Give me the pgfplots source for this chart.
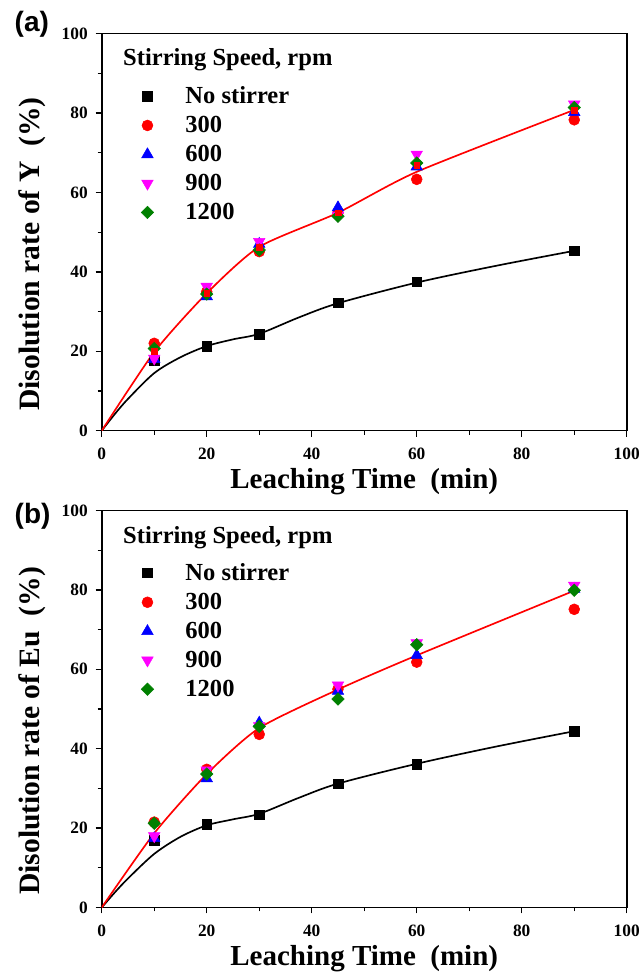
\documentclass[border=0pt]{standalone}
\usepackage{fontspec}
\setmainfont{Liberation Serif}
\newfontfamily\labfont{Liberation Sans}
\usepackage{pgfplots}
\pgfplotsset{compat=1.18}

\definecolor{myred}{RGB}{255,0,0}
\definecolor{myblue}{RGB}{0,0,255}
\definecolor{mymag}{RGB}{255,0,255}
\definecolor{mygreen}{RGB}{0,128,0}

\pgfplotsset{
  myleg/.style={legend image code/.code={\draw[##1] plot coordinates {(8.5pt,0pt)}; \path[draw=none,fill=none] (0pt,0pt) rectangle (35pt,0.1pt);}},
  panel/.style={
    scale only axis, width=393.75pt, height=297.75pt,
    xmin=0, xmax=100, ymin=0, ymax=100,
    xtick={0,20,...,100}, ytick={0,20,...,100},
    minor tick num=1,
    tick pos=left, tick align=outside,
    major tick length=4.5pt, minor tick length=3pt,
    axis line style={line width=1.2pt},
    every tick/.style={black, line width=1pt},
    tick label style={font=\fontsize{13}{15}\selectfont\bfseries},
    /pgf/number format/assume math mode=true,
    xticklabel style={yshift=-5pt},
    yticklabel style={xshift=-2.5pt},
    every axis x label/.style={at={(axis description cs:0.5,-0.145)}, anchor=base, font=\fontsize{21.75}{26}\selectfont\bfseries},
    every axis y label/.style={at={(axis description cs:-0.133,0.445)}, rotate=90, anchor=center, font=\fontsize{22.2}{26}\selectfont\bfseries},
    xlabel={Leaching Time\ \ (min)},
    legend style={at={(axis cs:6.5,87.4)}, anchor=north west, draw=none, fill=none,
      inner xsep=0pt, inner ysep=0pt, font=\fontsize{18.4}{22}\selectfont\bfseries,
      row sep=4pt, cells={anchor=west}},
  },
  blk/.style={only marks, mark=square*, mark size=3.6pt, color=black, myleg},
  rcir/.style={only marks, mark=*, mark size=4.1pt, color=myred, myleg},
  btri/.style={only marks, mark=triangle*, mark size=5pt, color=myblue, myleg},
  mtri/.style={only marks, mark=triangle*, mark size=5pt, mark options={rotate=180}, color=mymag, myleg},
  gdia/.style={only marks, mark=square*, mark size=3.3pt, mark options={rotate=45}, color=mygreen, myleg},
}

\begin{document}
\begin{tikzpicture}
% ---------------- Panel (a) ----------------
\begin{axis}[panel, at={(76.3pt,-323pt)}, anchor=south west,
  ylabel={Disolution rate of Y\ \ (\%)}]
\addplot[forget plot, black, line width=1.25pt, smooth, tension=0.5] coordinates {
 (0,0) (2.5,4.2) (5,8) (10,14.5) (15,18.5) (20,21.3) (25,23) (30,24.4) (37.5,28.5) (45,32.1) (60,37.3) (75,41.5) (90,45.3)};
\addplot[forget plot, myred, line width=1.25pt, smooth, tension=0.4] coordinates {
 (0,0) (10,19.8) (20,34.6) (30,46.3) (45,54.9) (60,65.2) (90,80.8)};
\addplot[blk] coordinates {(10,17.6) (20,21.3) (30,24.3) (45,32.2) (60,37.5) (90,45.3)};
\addlegendentry{No stirrer}
\addplot[rcir] coordinates {(10,22.0) (20,35.0) (30,45.1) (45,54.9) (60,63.3) (90,78.3)};
\addlegendentry{300}
\addplot[btri] coordinates {(10,18.0) (20,33.8) (30,47.0) (45,56.2) (60,66.5) (90,80.2)};
\addlegendentry{600}
\addplot[mtri] coordinates {(10,18.2) (20,36.3) (30,47.6) (45,54.2) (60,69.6) (90,82.2)};
\addlegendentry{900}
\addplot[gdia] coordinates {(10,20.7) (20,34.4) (30,45.5) (45,54.0) (60,67.4) (90,81.4)};
\addlegendentry{1200}
\addplot[forget plot, only marks, mark=square*, mark size=2.2pt, color=myred] coordinates {
 (10,20.1) (20,34.7) (30,46.3) (45,54.9) (60,66.9) (90,80.8)};
\node[anchor=base west, font=\fontsize{18.4}{22}\selectfont\bfseries] at (axis cs:3.2,91.9) {Stirring Speed, rpm};
\end{axis}
% ---------------- Panel (b) ----------------
\begin{axis}[panel, at={(76.3pt,-680.6pt)}, anchor=south west,
  ylabel={Disolution rate of Eu\ \ (\%)}]
\addplot[forget plot, black, line width=1.25pt, smooth, tension=0.5] coordinates {
 (0,0) (2.5,3.8) (5,7.3) (10,13.5) (15,17.8) (20,20.7) (25,22.2) (30,23.6) (37.5,27.6) (45,31.2) (60,36.2) (75,40.5) (90,44.4)};
\addplot[forget plot, myred, line width=1.25pt, smooth, tension=0.4] coordinates {
 (0,0) (10,18.7) (20,33.6) (30,45.2) (45,54.9) (60,63.5) (90,79.8)};
\addplot[blk] coordinates {(10,17.0) (20,20.9) (30,23.4) (45,31.2) (60,36.1) (90,44.4)};
\addlegendentry{No stirrer}
\addplot[rcir] coordinates {(10,21.5) (20,34.8) (30,43.6) (45,55.0) (60,61.8) (90,75.1)};
\addlegendentry{300}
\addplot[btri] coordinates {(10,17.4) (20,32.5) (30,46.5) (45,54.5) (60,63.5) (90,80.2)};
\addlegendentry{600}
\addplot[mtri] coordinates {(10,18.0) (20,34.6) (30,45.7) (45,56.0) (60,66.6) (90,81.1)};
\addlegendentry{900}
\addplot[gdia] coordinates {(10,21.2) (20,33.6) (30,45.6) (45,52.5) (60,66.2) (90,79.9)};
\addlegendentry{1200}
\node[anchor=base west, font=\fontsize{18.4}{22}\selectfont\bfseries] at (axis cs:3.2,91.8) {Stirring Speed, rpm};
\end{axis}
% panel labels
\node[anchor=west, font=\fontsize{21}{24}\selectfont\labfont\bfseries] at (7.5pt,-18pt) {(a)};
\node[anchor=west, font=\fontsize{21}{24}\selectfont\labfont\bfseries] at (7.5pt,-387pt) {(b)};
\pgfresetboundingbox
\path[use as bounding box] (0,0) rectangle (481.5pt,-729.75pt);
\end{tikzpicture}
\end{document}
